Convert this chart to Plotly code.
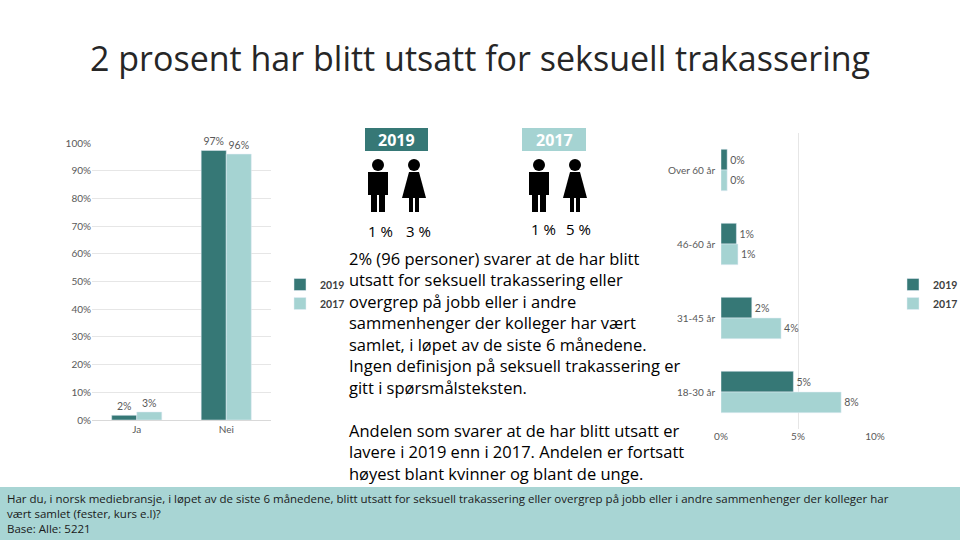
import plotly.graph_objects as go

DARK = '#367876'
LIGHT = '#a5d3d2'

# left chart data
answers = ['Ja', 'Nei']
total_2019 = [0.017, 0.973]
total_2017 = [0.029, 0.960]

# right chart data
age_groups = ['Over 60 år', '46-60 år', '31-45 år', '18-30 år']
age_2019 = [0.004, 0.010, 0.020, 0.047]
age_2017 = [0.004, 0.011, 0.039, 0.078]

# icon percentages
gender_2019 = ['1 %', '3 %']
gender_2017 = ['1 %', '5 %']

W, H = 960, 540


def px(x):
    return x / W


def py(y):
    return 1 - y / H


fig = go.Figure()
fig.add_trace(go.Bar(x=answers, y=total_2019, name='<b>2019</b>', marker_color=DARK,
                     texttemplate='%{y:.0%}', textposition='outside',
                     xaxis='x', yaxis='y', legend='legend', cliponaxis=False))
fig.add_trace(go.Bar(x=answers, y=total_2017, name='<b>2017</b>', marker_color=LIGHT,
                     texttemplate='%{y:.0%}', textposition='outside',
                     xaxis='x', yaxis='y', legend='legend', cliponaxis=False))
fig.add_trace(go.Bar(y=age_groups, x=age_2019, name='<b>2019</b>', orientation='h', marker_color=DARK,
                     texttemplate='%{x:.0%}', textposition='outside',
                     xaxis='x2', yaxis='y2', legend='legend2', cliponaxis=False))
fig.add_trace(go.Bar(y=age_groups, x=age_2017, name='<b>2017</b>', orientation='h', marker_color=LIGHT,
                     texttemplate='%{x:.0%}', textposition='outside',
                     xaxis='x2', yaxis='y2', legend='legend2', cliponaxis=False))
fig.update_traces(textfont=dict(size=10.5, color='#595959'))

tick = dict(size=10, color='#595959')
fig.update_layout(
    width=W, height=H, margin=dict(l=0, r=0, t=0, b=0, autoexpand=False),
    paper_bgcolor='white', plot_bgcolor='white',
    font=dict(family='Lato, Open Sans, sans-serif'),
    barmode='group', bargap=0.44, bargroupgap=0,
    xaxis=dict(domain=[px(92), px(271)], tickfont=tick, showline=True, linecolor='#d9d9d9',
               anchor='y'),
    yaxis=dict(domain=[py(420), py(143)], range=[0, 1], dtick=0.1, tickformat='.0%',
               tickfont=tick, gridcolor='#e6e6e6', zeroline=False, anchor='x'),
    xaxis2=dict(domain=[px(721), px(875)], range=[0, 0.1], dtick=0.05, tickformat='.0%',
                tickfont=tick, gridcolor='#e6e6e6', zeroline=False, anchor='y2'),
    yaxis2=dict(domain=[py(429), py(133)], autorange='reversed', tickfont=tick, anchor='x2',
                ticksuffix='  '),
    legend=dict(x=px(280), y=py(270), xanchor='left', yanchor='top',
                font=dict(size=10.5, color='#404040'), itemwidth=30, tracegroupgap=2),
    legend2=dict(x=px(893), y=py(270), xanchor='left', yanchor='top',
                 font=dict(size=10.5, color='#404040'), itemwidth=30, tracegroupgap=2),
)

shapes = []
ann = []

# title
ann.append(dict(x=px(480), y=py(58), text='2 prosent har blitt utsatt for seksuell trakassering',
                showarrow=False, font=dict(size=34, color='#262626', family='Open Sans')))

# year boxes
for x0, x1, col, label in [(365, 428, DARK, '2019'), (522, 586, LIGHT, '2017')]:
    shapes.append(dict(type='rect', xref='paper', yref='paper', x0=px(x0), x1=px(x1),
                       y0=py(151), y1=py(128), fillcolor=col, line_width=0))
    ann.append(dict(x=px((x0 + x1) / 2), y=py(140), text='<b>%s</b>' % label, showarrow=False,
                    font=dict(size=16, color='white', family='Open Sans')))


def man(cx):
    return [
        dict(type='circle', x0=px(cx - 6), x1=px(cx + 6), y0=py(171), y1=py(159)),
        dict(type='rect', x0=px(cx - 10), x1=px(cx + 10), y0=py(195), y1=py(172)),
        dict(type='rect', x0=px(cx - 7), x1=px(cx - 1), y0=py(212), y1=py(192)),
        dict(type='rect', x0=px(cx + 1), x1=px(cx + 7), y0=py(212), y1=py(192)),
    ]


def woman(cx):
    path = 'M %f %f L %f %f L %f %f L %f %f Z' % (
        px(cx - 5), py(172), px(cx + 5), py(172), px(cx + 12), py(198), px(cx - 12), py(198))
    return [
        dict(type='circle', x0=px(cx - 6), x1=px(cx + 6), y0=py(171), y1=py(159)),
        dict(type='path', path=path),
        dict(type='rect', x0=px(cx - 5), x1=px(cx - 1), y0=py(212), y1=py(196)),
        dict(type='rect', x0=px(cx + 1), x1=px(cx + 5), y0=py(212), y1=py(196)),
    ]


for s in man(378) + woman(414) + man(539) + woman(575):
    s.update(xref='paper', yref='paper', fillcolor='black', line_width=0)
    shapes.append(s)

for cx, t in zip([380, 418], gender_2019):
    ann.append(dict(x=px(cx), y=py(231), text=t, showarrow=False,
                    font=dict(size=15, color='black', family='Open Sans')))
for cx, t in zip([543, 578], gender_2017):
    ann.append(dict(x=px(cx), y=py(229), text=t, showarrow=False,
                    font=dict(size=15, color='black', family='Open Sans')))

for a in ann:
    a.update(xanchor='center', yanchor='middle')

body = ('2% (96 personer) svarer at de har blitt<br>utsatt for seksuell trakassering eller<br>'
        'overgrep på jobb eller i andre<br>sammenhenger der kolleger har vært<br>'
        'samlet, i løpet av de siste 6 månedene.<br>Ingen definisjon på seksuell trakassering er<br>'
        'gitt i spørsmålsteksten.<br><br>Andelen som svarer at de har blitt utsatt er<br>'
        'lavere i 2019 enn i 2017. Andelen er fortsatt<br>høyest blant kvinner og blant de unge.')
ann.append(dict(x=px(347), y=py(245), xanchor='left', yanchor='top', align='left', text=body,
                showarrow=False, font=dict(size=16.5, color='black', family='Open Sans')))

# bottom band
shapes.append(dict(type='rect', xref='paper', yref='paper', x0=0, x1=1, y0=0, y1=py(487),
                   fillcolor='#a8d5d4', line_width=0, layer='below'))
foot = ('Har du, i norsk mediebransje, i løpet av de siste 6 månedene, blitt utsatt for seksuell '
        'trakassering eller overgrep på jobb eller i andre sammenhenger der kolleger har<br>'
        'vært samlet (fester, kurs e.l)?<br>Base: Alle: 5221')
ann.append(dict(x=px(5), y=py(489), xanchor='left', yanchor='top', align='left', text=foot,
                showarrow=False, font=dict(size=11.5, color='#1a1a1a', family='Open Sans')))

for a in ann:
    a.update(xref='paper', yref='paper')

fig.update_layout(shapes=shapes, annotations=ann)
fig.write_html('out.html', config={'displayModeBar': False},
               post_script="document.body.style.margin='0';")
